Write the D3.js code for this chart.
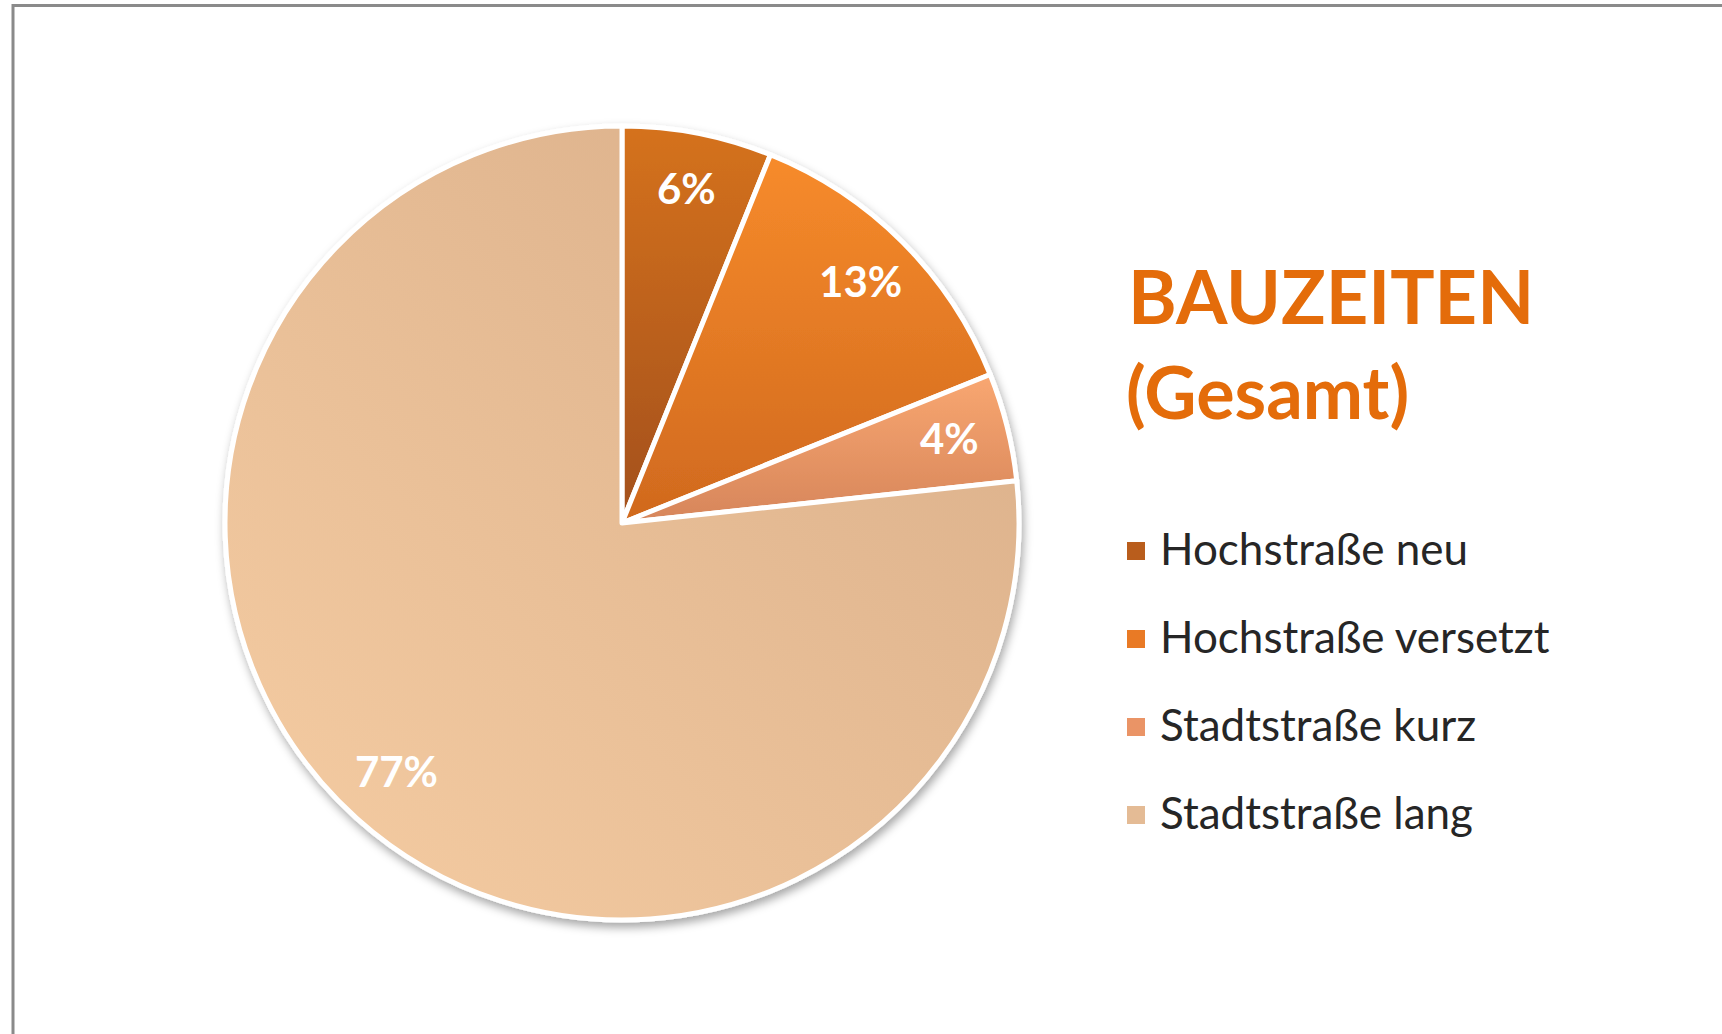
<!DOCTYPE html>
<html>
<head>
<meta charset="utf-8">
<script src="https://cdn.jsdelivr.net/npm/d3@7"></script>
<style>
  html, body { margin: 0; padding: 0; background: #fff; }
  svg { display: block; }
</style>
</head>
<body>
<svg id="main-svg" width="1722" height="1034"></svg>
<script>
// ----- //
// data
// ----- //
var categories = ["Hochstraße neu", "Hochstraße versetzt", "Stadtstraße kurz", "Stadtstraße lang"];
var values = [6.1, 12.8, 4.4, 76.7];
var titleLines = ["BAUZEITEN", "(Gesamt)"];

// gradient stops per slice (top / bottom)
var gradTop = ["#d5721f", "#f78b2b", "#f9a771", "#d8ad88"];
var gradBottom = ["#a3501a", "#d0691e", "#d6855a", "#f6cda3"];
var legendColors = ["#b95d1c", "#e97a25", "#ea9466", "#e4bb95"];

// ----- //
// main
// ----- //
document.addEventListener("DOMContentLoaded", main);

function main() {
    var svg = d3.select("#main-svg");
    var defs = svg.append("defs");

    // frame (top + left only, rest is cropped)
    svg.append("line")
        .attr("x1", 12).attr("y1", 5.5).attr("x2", 1722).attr("y2", 5.5)
        .attr("stroke", "#8a8a8a").attr("stroke-width", 3);
    svg.append("line")
        .attr("x1", 13).attr("y1", 4).attr("x2", 13).attr("y2", 1034)
        .attr("stroke", "#8a8a8a").attr("stroke-width", 3);

    // shadow filter
    var shadow = defs.append("filter")
        .attr("id", "pie-shadow")
        .attr("x", "-10%").attr("y", "-10%")
        .attr("width", "120%").attr("height", "120%");
    shadow.append("feDropShadow")
        .attr("dx", 2).attr("dy", 5)
        .attr("stdDeviation", 5)
        .attr("flood-color", "#000")
        .attr("flood-opacity", 0.35);

    // gradients, one per slice
    values.forEach(function(v, i) {
        var g = defs.append("linearGradient")
            .attr("id", "grad-" + i);
        if (i === 3) {
            g.attr("x1", 1).attr("y1", 0).attr("x2", 0).attr("y2", 1);
        } else {
            g.attr("x1", 0).attr("y1", 0).attr("x2", 0).attr("y2", 1);
        }
        g.append("stop").attr("offset", "0%").attr("stop-color", gradTop[i]);
        g.append("stop").attr("offset", "100%").attr("stop-color", gradBottom[i]);
    });

    // ----- //
    // pie
    // ----- //
    var cx = 622, cy = 523, radius = 397;
    var total = d3.sum(values);

    var pie = d3.pie().sort(null).value(function(d) { return d; });
    var arcs = pie(values);
    var arc = d3.arc().innerRadius(0).outerRadius(radius);
    var labelArc = d3.arc().innerRadius(radius * 0.85).outerRadius(radius * 0.85);

    var g = svg.append("g")
        .attr("transform", "translate(" + cx + "," + cy + ")");

    var slices = g.append("g").attr("filter", "url(#pie-shadow)");
    slices.selectAll("path")
        .data(arcs)
        .enter()
        .append("path")
        .attr("d", arc)
        .attr("fill", function(d, i) { return "url(#grad-" + i + ")"; })
        .attr("stroke", "#fff")
        .attr("stroke-width", 5)
        .attr("stroke-linejoin", "round");

    g.selectAll("text.pct")
        .data(arcs)
        .enter()
        .append("text")
        .attr("class", "pct")
        .attr("transform", function(d) { return "translate(" + labelArc.centroid(d) + ")"; })
        .attr("text-anchor", "middle")
        .attr("dy", "0.3em")
        .attr("fill", "#fff")
        .style("font-family", "Lato, 'Open Sans', sans-serif")
        .style("font-weight", "bold")
        .style("font-size", "42px")
        .text(function(d) { return Math.round(d.value / total * 100) + "%"; });

    // ----- //
    // title
    // ----- //
    svg.append("text")
        .attr("x", 1128).attr("y", 324)
        .attr("fill", "#e46c0a")
        .style("font-family", "Lato, 'Open Sans', sans-serif")
        .style("font-weight", "bold")
        .style("font-size", "74px")
        .text(titleLines[0]);
    svg.append("text")
        .attr("x", 1126).attr("y", 419)
        .attr("fill", "#e46c0a")
        .style("font-family", "Lato, 'Open Sans', sans-serif")
        .style("font-weight", "bold")
        .style("font-size", "72px")
        .text(titleLines[1]);

    // ----- //
    // legend
    // ----- //
    var legendY = d3.scalePoint()
        .domain(categories)
        .range([551, 815]);

    var legend = svg.append("g");
    var items = legend.selectAll("g")
        .data(categories)
        .enter()
        .append("g")
        .attr("transform", function(d) { return "translate(1127," + legendY(d) + ")"; });

    items.append("rect")
        .attr("x", 0).attr("y", -9)
        .attr("width", 18).attr("height", 18)
        .attr("fill", function(d, i) { return legendColors[i]; });

    items.append("text")
        .attr("x", 33)
        .attr("y", 14)
        .attr("fill", "#262626")
        .style("font-family", "Lato, 'Open Sans', sans-serif")
        .style("font-size", "44px")
        .text(function(d) { return d; });
}
</script>
</body>
</html>
